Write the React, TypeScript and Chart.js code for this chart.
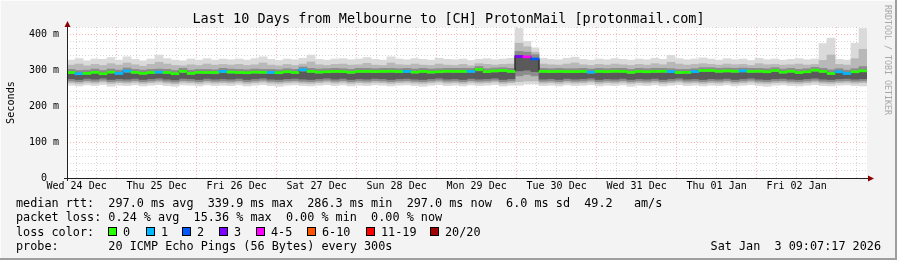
import React, { useEffect, useRef } from "react";
import { Chart, registerables } from "chart.js";

Chart.register(...registerables);

// ---------- texts ----------
const TITLE = "Last 10 Days from Melbourne to [CH] ProtonMail [protonmail.com]";
const Y_LABEL = "Seconds";
const WATERMARK = "RRDTOOL / TOBI OETIKER";
const TIMESTAMP = "Sat Jan  3 09:07:17 2026";
const statLines = [
  "median rtt:  297.0 ms avg  339.9 ms max  286.3 ms min  297.0 ms now  6.0 ms sd  49.2   am/s",
  "packet loss: 0.24 % avg  15.36 % max  0.00 % min  0.00 % now",
];
const LOSS_TITLE = "loss color:";
const PROBE_LINE = "probe:       20 ICMP Echo Pings (56 Bytes) every 300s";

// ---------- axes ----------
// time in hours since Wed 24 Dec 00:00
const X_MIN_HOURS = 9.12;
const X_SPAN_HOURS = 240;
const COLUMN_HOURS = 2.4;
const dayLabels = [
  "Wed 24 Dec", "Thu 25 Dec", "Fri 26 Dec", "Sat 27 Dec", "Sun 28 Dec",
  "Mon 29 Dec", "Tue 30 Dec", "Wed 31 Dec", "Thu 01 Jan", "Fri 02 Jan",
];
const Y_MAX = 420;
const Y_STEP = 20;

// ---------- loss legend ----------
const lossLabels = ["0", "1", "2", "3", "4-5", "6-10", "11-19", "20/20"];
const lossColors = ["#26ff00", "#00b8ff", "#0059ff", "#7e00ff", "#ff00ff", "#ff5500", "#ff0000", "#a10000"];

// ---------- data (ms), one value per 2.4 h column ----------
const medianRtt = [
  293.5, 290, 291, 294, 290, 294.5, 291, 297.5, 294, 291,
  293.5, 294.5, 293.5, 290, 297, 291, 294, 293.5, 293.5, 296.5,
  294.5, 293.5, 293, 294.5, 294, 293.5, 293, 295.5, 293.5, 301,
  296.5, 294.5, 295.5, 296.5, 296, 294, 296.5, 296.5, 296, 296.5,
  297, 296, 296.5, 294.5, 296.5, 294.5, 295.5, 297, 296.5, 296.5,
  296.5, 302, 296, 298, 299, 296.5, 338, 337, 331, 296.5,
  296, 296.5, 296, 296, 296.5, 294.5, 296.5, 296, 297, 296.5,
  294, 296.5, 295.5, 296.5, 297, 296, 293.5, 294, 296, 299,
  299, 297, 298, 297, 298, 296.5, 297, 295.5, 299, 294.5,
  297, 293.5, 295.5, 300, 296.5, 290.7, 295.5, 290.7, 295.5, 298,
];
const lossIndex = [
  0, 1, 0, 0, 0, 0, 1, 1, 0, 0,
  0, 1, 0, 0, 0, 0, 0, 0, 0, 1,
  0, 0, 0, 0, 0, 1, 0, 0, 0, 1,
  0, 0, 0, 0, 0, 0, 0, 0, 0, 0,
  0, 0, 1, 0, 0, 0, 0, 0, 0, 0,
  1, 0, 0, 0, 0, 0, 3, 4, 2, 0,
  0, 0, 0, 0, 0, 1, 0, 0, 0, 0,
  0, 0, 0, 0, 0, 1, 0, 0, 1, 0,
  0, 0, 0, 0, 1, 0, 0, 0, 0, 0,
  0, 0, 0, 0, 0, 0, 1, 1, 0, 0,
];
const smokeMaxOuter = [
  328, 332, 326, 331, 330, 335, 328, 337, 330, 326,
  331, 342, 332, 328, 326, 331, 328, 332, 328, 331,
  329, 331, 328, 332, 337, 330, 327, 331, 329, 333,
  342, 330, 328, 331, 332, 329, 331, 335, 330, 328,
  337, 331, 329, 332, 330, 328, 333, 330, 329, 331,
  327, 330, 332, 329, 331, 333, 416, 380, 362, 333,
  330, 329, 333, 336, 330, 328, 331, 329, 332, 330,
  328, 331, 329, 333, 330, 341, 332, 329, 331, 334,
  331, 328, 332, 329, 331, 327, 333, 329, 331, 328,
  330, 332, 329, 331, 374, 389, 330, 328, 375, 416,
];
const smokeMinOuter = [
  258, 256, 259, 257, 260, 255, 258, 257, 259, 256,
  258, 260, 257, 255, 259, 258, 256, 259, 257, 258,
  257, 259, 256, 258, 260, 257, 255, 258, 259, 257,
  256, 258, 260, 257, 259, 256, 258, 257, 259, 258,
  256, 258, 259, 257, 255, 258, 260, 257, 258, 256,
  259, 257, 258, 260, 256, 258, 258, 262, 262, 257,
  258, 256, 259, 257, 258, 260, 256, 258, 257, 259,
  255, 258, 257, 259, 256, 258, 260, 257, 258, 256,
  258, 257, 259, 256, 258, 260, 257, 255, 258, 259,
  257, 256, 258, 260, 257, 256, 258, 259, 257, 256,
];
const smokeMaxMid = [
  314, 317, 312, 316, 313, 318, 314, 320, 315, 311,
  316, 322, 317, 313, 312, 315, 313, 317, 314, 316,
  314, 316, 313, 315, 320, 314, 312, 316, 313, 317,
  323, 315, 313, 316, 317, 314, 315, 319, 314, 313,
  320, 315, 314, 317, 314, 313, 317, 314, 313, 316,
  312, 318, 316, 314, 316, 317, 375, 365, 350, 317,
  315, 314, 317, 320, 315, 313, 316, 314, 317, 315,
  313, 316, 314, 318, 315, 322, 317, 314, 316, 318,
  316, 314, 317, 315, 316, 313, 318, 315, 316, 314,
  315, 317, 314, 316, 327, 342, 316, 314, 332, 358,
];
const smokeMinMid = [
  265, 263, 266, 264, 267, 263, 265, 264, 266, 263,
  265, 267, 264, 262, 266, 265, 263, 266, 264, 265,
  264, 266, 263, 265, 267, 264, 263, 265, 266, 264,
  263, 265, 267, 264, 266, 263, 265, 264, 266, 265,
  263, 265, 266, 264, 263, 265, 267, 264, 265, 263,
  266, 264, 265, 267, 263, 265, 268, 270, 270, 264,
  265, 263, 266, 264, 265, 267, 263, 265, 264, 266,
  263, 265, 264, 266, 263, 265, 267, 264, 265, 263,
  265, 264, 266, 263, 265, 267, 264, 263, 265, 266,
  264, 263, 265, 267, 264, 263, 265, 266, 264, 265,
];
const smokeMaxInner = [
  302, 299, 300, 303, 299, 303, 300, 306, 302, 300,
  302, 303, 302, 299, 305, 300, 302, 302, 301, 305,
  303, 302, 301, 303, 302, 302, 301, 304, 302, 309,
  305, 303, 304, 305, 304, 302, 305, 305, 304, 305,
  305, 304, 305, 303, 305, 303, 304, 305, 305, 305,
  305, 310, 304, 306, 307, 305, 352, 350, 343, 305,
  304, 305, 304, 304, 305, 303, 305, 304, 305, 305,
  302, 305, 304, 305, 305, 304, 302, 302, 304, 307,
  307, 305, 306, 305, 306, 305, 305, 304, 307, 303,
  305, 302, 304, 308, 305, 301, 304, 300, 304, 310,
];
const smokeMinInner = [
  270, 268, 271, 269, 272, 268, 270, 269, 271, 268,
  270, 272, 269, 267, 271, 270, 268, 271, 269, 270,
  269, 271, 268, 270, 272, 269, 268, 270, 271, 269,
  268, 270, 272, 269, 271, 268, 270, 269, 271, 270,
  268, 270, 271, 269, 268, 270, 272, 269, 270, 268,
  271, 269, 270, 272, 268, 270, 284, 288, 284, 269,
  270, 268, 271, 269, 270, 272, 268, 270, 269, 271,
  268, 270, 269, 271, 268, 270, 272, 269, 270, 268,
  270, 269, 271, 268, 270, 272, 269, 268, 270, 271,
  269, 268, 270, 272, 269, 268, 270, 271, 269, 270,
];
const smokeMaxCore = [
  289, 286, 287, 290, 286, 290, 287, 292, 289, 287,
  289, 290, 289, 286, 291, 287, 289, 289, 288, 291,
  290, 289, 288, 290, 289, 289, 288, 291, 289, 295,
  292, 290, 291, 292, 291, 289, 292, 292, 291, 292,
  292, 291, 292, 290, 292, 290, 291, 292, 292, 292,
  292, 296, 291, 293, 294, 292, 340, 338, 330, 292,
  291, 292, 291, 291, 292, 290, 292, 291, 292, 292,
  289, 292, 291, 292, 292, 291, 289, 289, 291, 294,
  294, 292, 293, 292, 293, 292, 292, 291, 294, 290,
  292, 289, 291, 295, 292, 287, 291, 287, 291, 296,
];
const smokeMinCore = [
  276, 274, 277, 275, 278, 274, 276, 275, 277, 274,
  276, 278, 275, 273, 277, 276, 274, 277, 275, 276,
  275, 277, 274, 276, 278, 275, 274, 276, 277, 275,
  274, 276, 278, 275, 277, 274, 276, 275, 277, 276,
  274, 276, 277, 275, 274, 276, 278, 275, 276, 274,
  277, 275, 276, 278, 274, 276, 298, 300, 296, 275,
  276, 274, 277, 275, 276, 278, 274, 276, 275, 277,
  274, 276, 275, 277, 274, 276, 278, 275, 276, 274,
  276, 275, 277, 274, 276, 278, 275, 274, 276, 277,
  275, 274, 276, 278, 275, 274, 276, 277, 275, 276,
];

// ---------- layout / style ----------
const W = 897;
const H = 260;
const MONO = "'DejaVu Sans Mono', monospace";
const LEGEND_BOX_X = [108, 146, 182, 219, 256, 307, 366, 430];
const MEDIAN_HALF = 2.8; // half thickness of median marker, in ms

const colX = (i: number) => X_MIN_HOURS + (i + 0.5) * COLUMN_HOURS;
const floatBars = (lo: number[], hi: number[]) => lo.map((v, i) => ({ x: colX(i), y: [v, hi[i]] }));

const rrdPlugin = {
  id: "rrdDecor",
  beforeDraw(chart: any) {
    const { ctx, chartArea: a } = chart;
    ctx.save();
    ctx.fillStyle = "#f3f3f3";
    ctx.fillRect(0, 0, W, H);
    ctx.fillStyle = "#fcfcfc";
    ctx.fillRect(0, 0, W, 1);
    ctx.fillRect(0, 0, 1, H);
    ctx.fillStyle = "#9e9e9e";
    ctx.fillRect(0, H - 2, W, 2);
    ctx.fillRect(W - 2, 0, 2, H);
    ctx.fillStyle = "#ffffff";
    ctx.fillRect(a.left, a.top, a.right - a.left, a.bottom - a.top);
    ctx.restore();
  },
  afterDraw(chart: any) {
    const { ctx, chartArea: a } = chart;
    ctx.save();
    // axes
    ctx.strokeStyle = "#222222";
    ctx.lineWidth = 1;
    ctx.beginPath();
    ctx.moveTo(a.left + 0.5, a.bottom + 3);
    ctx.lineTo(a.left + 0.5, a.top - 1);
    ctx.moveTo(a.left - 3, a.bottom + 0.5);
    ctx.lineTo(a.right + 2, a.bottom + 0.5);
    ctx.stroke();
    ctx.fillStyle = "#8b0000";
    ctx.beginPath();
    ctx.moveTo(a.left + 0.5, a.top - 6);
    ctx.lineTo(a.left - 2.5, a.top);
    ctx.lineTo(a.left + 3.5, a.top);
    ctx.closePath();
    ctx.fill();
    ctx.beginPath();
    ctx.moveTo(a.right + 7, a.bottom + 0.5);
    ctx.lineTo(a.right + 1, a.bottom - 2.5);
    ctx.lineTo(a.right + 1, a.bottom + 3.5);
    ctx.closePath();
    ctx.fill();

    ctx.fillStyle = "#000000";
    // title
    ctx.font = `13.5px ${MONO}`;
    ctx.textAlign = "center";
    ctx.textBaseline = "alphabetic";
    ctx.fillText(TITLE, W / 2, 23);

    // y label
    ctx.save();
    ctx.font = `10.2px ${MONO}`;
    ctx.translate(14, (a.top + a.bottom) / 2);
    ctx.rotate(-Math.PI / 2);
    ctx.textAlign = "center";
    ctx.fillText(Y_LABEL, 0, 0);
    ctx.restore();

    // watermark
    ctx.save();
    ctx.fillStyle = "#a8a8a8";
    ctx.font = `8.3px ${MONO}`;
    ctx.translate(885, 5);
    ctx.rotate(Math.PI / 2);
    ctx.textAlign = "left";
    ctx.fillText(WATERMARK, 0, 0);
    ctx.restore();

    // legend
    ctx.font = `11.8px ${MONO}`;
    ctx.textAlign = "left";
    const baselines = [207, 221, 235.5, 250];
    statLines.forEach((s, i) => ctx.fillText(s, 16, baselines[i]));
    ctx.fillText(LOSS_TITLE, 16, baselines[2]);
    lossLabels.forEach((lab, i) => {
      const bx = LEGEND_BOX_X[i];
      ctx.fillStyle = lossColors[i];
      ctx.fillRect(bx, 227, 8, 8);
      ctx.strokeStyle = "#000000";
      ctx.strokeRect(bx + 0.5, 227.5, 8, 8);
      ctx.fillStyle = "#000000";
      ctx.fillText(lab, bx + 15, baselines[2]);
    });
    ctx.fillText(PROBE_LINE, 16, baselines[3]);
    ctx.textAlign = "right";
    ctx.fillText(TIMESTAMP, 881, baselines[3]);
    ctx.restore();
  },
};

export default function App() {
  const ref = useRef<HTMLCanvasElement | null>(null);

  useEffect(() => {
    if (!ref.current) return;
    const barCommon = {
      type: "bar" as const,
      grouped: false,
      barPercentage: 1,
      categoryPercentage: 1,
      borderWidth: 0,
    };
    const stepPoints = medianRtt.map((v, i) => ({ x: X_MIN_HOURS + i * COLUMN_HOURS, y: v }));
    stepPoints.push({ x: X_MIN_HOURS + X_SPAN_HOURS, y: medianRtt[medianRtt.length - 1] });

    const minorGrid = "rgba(150,150,150,0.38)";
    const majorGrid = "rgba(255,90,90,0.45)";

    const chart = new Chart(ref.current, {
      type: "bar",
      data: {
        datasets: [
          { ...barCommon, label: "smoke outer", data: floatBars(smokeMinOuter, smokeMaxOuter), backgroundColor: "#dadada", order: 6 },
          { ...barCommon, label: "smoke mid", data: floatBars(smokeMinMid, smokeMaxMid), backgroundColor: "#b8b8b8", order: 5 },
          { ...barCommon, label: "smoke inner", data: floatBars(smokeMinInner, smokeMaxInner), backgroundColor: "#8c8c8c", order: 4 },
          { ...barCommon, label: "smoke core", data: floatBars(smokeMinCore, smokeMaxCore), backgroundColor: "#5a5a5a", order: 3 },
          {
            type: "line" as const,
            label: "median step",
            data: stepPoints,
            stepped: true,
            borderColor: "#1a1a1a",
            borderWidth: 1,
            pointRadius: 0,
            fill: false,
            order: 2,
          },
          {
            ...barCommon,
            label: "median rtt",
            data: medianRtt.map((v, i) => ({ x: colX(i), y: [v - MEDIAN_HALF, v + MEDIAN_HALF] })),
            backgroundColor: lossIndex.map((k) => lossColors[k]),
            order: 1,
          },
        ] as any,
      },
      options: {
        responsive: false,
        animation: false,
        devicePixelRatio: 1,
        events: [],
        layout: { autoPadding: false, padding: { left: 0, top: 27, right: 30, bottom: 0 } },
        plugins: { legend: { display: false }, tooltip: { enabled: false }, title: { display: false } },
        scales: {
          x: {
            type: "linear",
            min: X_MIN_HOURS,
            max: X_MIN_HOURS + X_SPAN_HOURS,
            offset: false,
            z: 1,
            afterBuildTicks: (scale: any) => {
              const ticks = [];
              for (let v = Math.ceil(X_MIN_HOURS / 6) * 6; v <= X_MIN_HOURS + X_SPAN_HOURS; v += 6) ticks.push({ value: v });
              scale.ticks = ticks;
            },
            afterFit: (scale: any) => {
              scale.height = 82;
            },
            grid: {
              offset: false,
              drawTicks: false,
              lineWidth: 1,
              color: (c: any) => (c.tick && c.tick.value % 24 === 0 ? majorGrid : minorGrid),
            },
            border: { display: false, dash: [1, 2] },
            ticks: {
              autoSkip: false,
              maxRotation: 0,
              minRotation: 0,
              padding: 2,
              color: "#000000",
              font: { family: MONO, size: 10 },
              callback: (v: any) => {
                const n = Number(v);
                return n % 24 === 12 ? dayLabels[(n - 12) / 24] ?? "" : "";
              },
            },
          },
          y: {
            type: "linear",
            min: 0,
            max: Y_MAX,
            z: 1,
            afterBuildTicks: (scale: any) => {
              const ticks = [];
              for (let v = 0; v <= Y_MAX; v += Y_STEP) ticks.push({ value: v });
              scale.ticks = ticks;
            },
            afterFit: (scale: any) => {
              scale.width = 67;
            },
            grid: {
              drawTicks: false,
              lineWidth: 1,
              color: (c: any) => (c.tick && c.tick.value % 100 === 0 ? majorGrid : minorGrid),
            },
            border: { display: false, dash: [1, 2] },
            ticks: {
              autoSkip: false,
              padding: 8,
              color: "#000000",
              font: { family: MONO, size: 10 },
              callback: (v: any) => {
                const n = Number(v);
                if (n % 100 !== 0) return "";
                return n === 0 ? "0  " : `${n} m`;
              },
            },
          },
        },
      } as any,
      plugins: [rrdPlugin],
    });
    return () => chart.destroy();
  }, []);

  return (
    <div style={{ position: "fixed", left: 0, top: 0, width: W, height: H }}>
      <canvas ref={ref} width={W} height={H} style={{ display: "block", width: W, height: H }} />
    </div>
  );
}
